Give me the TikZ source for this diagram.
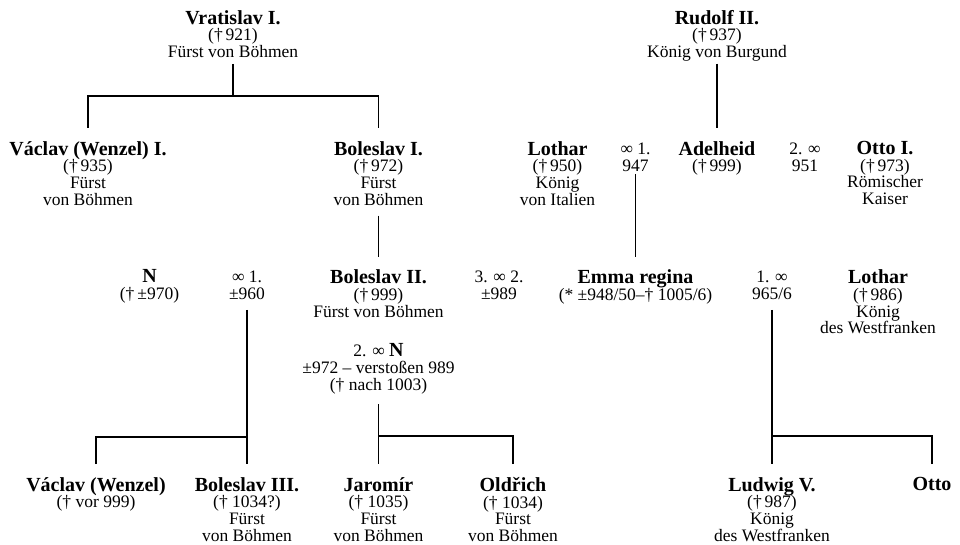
\documentclass[tikz,border=0pt]{standalone}
\usepackage{fontspec}
\setmainfont{Liberation Serif}
\usepackage{tikz}

\newcommand{\nm}[1]{{\fontsize{20}{16.7}\selectfont\bfseries #1}}

\begin{document}
\begin{tikzpicture}[
            x=1pt, y=-1pt,
            line/.style={line width=1.8pt},
            parent/.style={line, shorten <=5pt, shorten >=8pt},
            fork/.style={line, shorten <=8pt, shorten >=8pt},
            kid/.style={line, shorten <=8pt},
            top/.style={line, shorten <=1pt}
        ]
            \useasboundingbox (0,0) rectangle (960,545);
            \begin{scope}[
                every node/.style={anchor=north, align=center, inner xsep=2pt, inner ysep=5pt,
                    font=\fontsize{17.5}{16.7}\selectfont}
            ]
                % Persons
                \node (vratislav) at (233,5) {\nm{Vratislav I.}\\(†\,921)\\Fürst von Böhmen};
                \node (rudolf) at (717,5) {\nm{Rudolf II.}\\(†\,937)\\König von Burgund};
                \node (vaclavI) at (88,136) {\nm{Václav (Wenzel) I.}\\(†\,935)\\Fürst\\von Böhmen};
                \node (boleslavI) at (378.5,136) {\nm{Boleslav I.}\\(†\,972)\\Fürst\\von Böhmen};
                \node (lotharI) at (557.5,136) {\nm{Lothar}\\(†\,950)\\König\\von Italien};
                \node (adelheid) at (717,136) {\nm{Adelheid}\\(†\,999)};
                \node (ottoI) at (885,136) {\nm{Otto I.}\\(†\,973)\\Römischer\\Kaiser};
                \node (nN) at (149.5,264.7) {\nm{N}\\(†\,±970)};
                \node (boleslavII) at (378.5,264.7) {\nm{Boleslav II.}\\(†\,999)\\Fürst von Böhmen};
                \node (emma) at (635.5,264.7) {\nm{Emma regina}\\(* ±948/50–† 1005/6)};
                \node (lotharII) at (878,264.7) {\nm{Lothar}\\(†\,986)\\König\\des Westfranken};
                \node (wenzel) at (96,472) {\nm{Václav (Wenzel)}\\(† vor 999)};
                \node (boleslavIII) at (247,472) {\nm{Boleslav III.}\\(† 1034?)\\Fürst\\von Böhmen};
                \node (jaromir) at (378.5,472) {\nm{Jaromír}\\(† 1035)\\Fürst\\von Böhmen};
                \node (oldrich) at (513,472) {\nm{Oldřich}\\(† 1034)\\Fürst\\von Böhmen};
                \node (ludwig) at (772,472) {\nm{Ludwig V.}\\(†\,987)\\König\\des Westfranken};
                \node (otto) at (932,472) {\nm{Otto}};
                % Marriages
                \node (m947) at (635.5,138) {∞ 1.\\947};
                \node (m951) at (805,138) {2. ∞\\951};
                \node (m960) at (247,266) {∞ 1.\\±960};
                \node (m989) at (499,266) {3. ∞ 2.\\±989};
                \node (m965) at (772,266) {1. ∞\\965/6};
                \node (m2N) at (378.5,338.5) {2. ∞ \nm{N}\\±972 – verstoßen 989\\(† nach 1003)};
            \end{scope}
            % Junctions
            \coordinate (s1) at (233,96);
            \coordinate (j3) at (247,437);
            \coordinate (j4) at (378.5,436);
            \coordinate (j5) at (772,436);
            % Lines
            \draw[top] (vratislav) -- (s1);
            \draw[fork] (vaclavI) |- (s1) -| (boleslavI);
            \draw[parent, shorten <=-3pt] (rudolf) -- (adelheid);
            \draw[parent, shorten <=-3pt] (m947) -- (emma);
            \draw[parent] (boleslavI) -- (boleslavII);
            \draw[parent] (m960) -- (boleslavIII);
            \draw[kid] (wenzel) |- (j3);
            \draw[parent] (m2N) -- (jaromir);
            \draw[kid] (oldrich) |- (j4);
            \draw[parent] (m965) -- (ludwig);
            \draw[kid] (otto) |- (j5);
        \end{tikzpicture}
\end{document}
